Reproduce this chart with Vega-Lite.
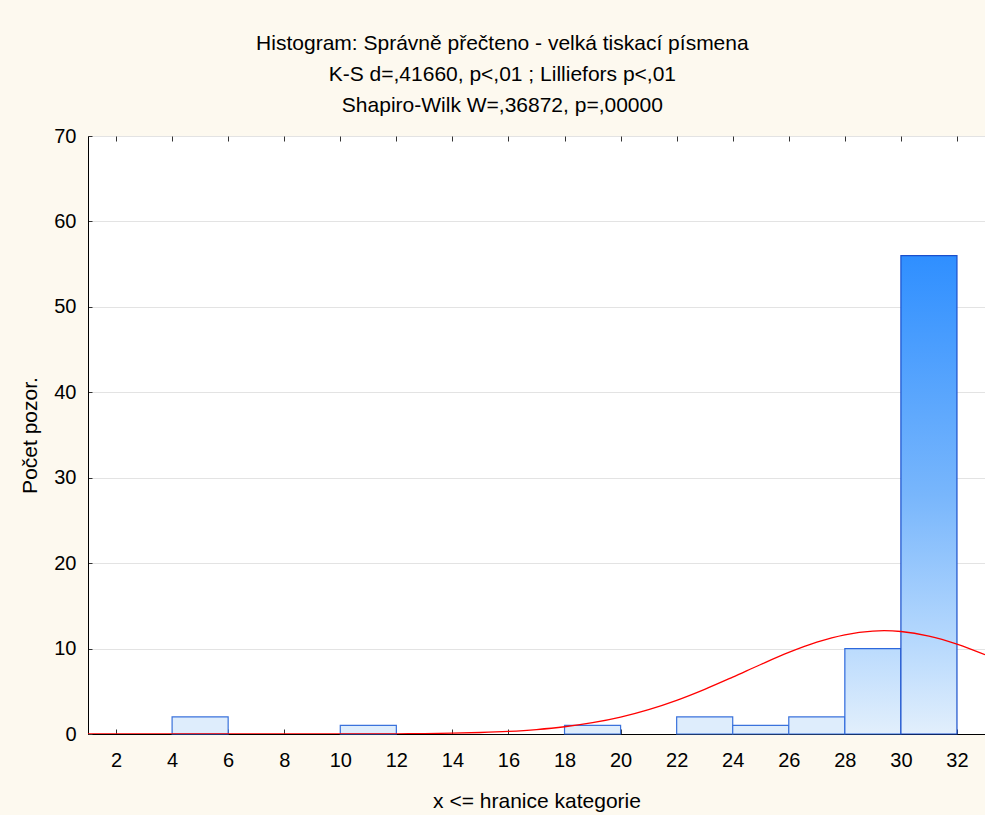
{
  "$schema": "https://vega.github.io/schema/vega-lite/v6.json",
  "autosize": {"type": "none"},
  "width": 897,
  "height": 598,
  "padding": {"left": 88, "top": 136, "right": 0, "bottom": 81},
  "background": "#fdf9ef",
  "title": {
    "text": ["Histogram: Správně přečteno - velká tiskací písmena", "K-S d=,41660, p<,01 ; Lilliefors p<,01", "Shapiro-Wilk W=,36872, p=,00000"],
    "anchor": "middle",
    "frame": "bounds",
    "font": "Liberation Sans",
    "fontSize": 21,
    "fontWeight": "normal",
    "color": "#000000",
    "lineHeight": 31,
    "offset": 10
  },
  "config": {
    "view": {"fill": "#ffffff", "stroke": "#555555", "strokeWidth": 1},
    "axis": {
      "labelFont": "Liberation Sans",
      "titleFont": "Liberation Sans",
      "labelFontSize": 20,
      "titleFontSize": 21,
      "titleFontWeight": "normal",
      "labelColor": "#000000",
      "titleColor": "#000000",
      "domainColor": "#000000",
      "tickColor": "#333333",
      "gridColor": "#e3e3e3"
    }
  },
  "resolve": {"axis": {"x": "independent"}},
  "datasets": {
    "bins": [
      {"lo": 4, "hi": 6, "n": 2},
      {"lo": 10, "hi": 12, "n": 1},
      {"lo": 18, "hi": 20, "n": 1},
      {"lo": 22, "hi": 24, "n": 2},
      {"lo": 24, "hi": 26, "n": 1},
      {"lo": 26, "hi": 28, "n": 2},
      {"lo": 28, "hi": 30, "n": 10},
      {"lo": 30, "hi": 32, "n": 56}
    ],
    "curve": [
      {"x": 1, "y": 0}, {"x": 4, "y": 0}, {"x": 7, "y": 0}, {"x": 9, "y": 0.002},
      {"x": 10, "y": 0.006}, {"x": 11, "y": 0.012}, {"x": 12, "y": 0.025}, {"x": 13, "y": 0.049},
      {"x": 14, "y": 0.095}, {"x": 15, "y": 0.174}, {"x": 16, "y": 0.307}, {"x": 17, "y": 0.521},
      {"x": 18, "y": 0.848}, {"x": 19, "y": 1.324}, {"x": 20, "y": 1.984}, {"x": 21, "y": 2.856},
      {"x": 22, "y": 3.945}, {"x": 23, "y": 5.233}, {"x": 24, "y": 6.659}, {"x": 25, "y": 8.138},
      {"x": 26, "y": 9.545}, {"x": 27, "y": 10.747}, {"x": 28, "y": 11.615}, {"x": 29, "y": 12.05},
      {"x": 29.4, "y": 12.09}, {"x": 30, "y": 12.0}, {"x": 31, "y": 11.47}, {"x": 32, "y": 10.53},
      {"x": 33, "y": 9.28}
    ]
  },
  "layer": [
    {
      "data": {"name": "bins"},
      "transform": [{"filter": "datum.n < 10"}],
      "mark": {"type": "bar", "fill": "#deedfc", "stroke": "#3a72dc", "strokeWidth": 1.2},
      "encoding": {
        "x": {
          "field": "lo", "type": "quantitative",
          "scale": {"domain": [1, 33], "nice": false, "zero": false},
          "axis": {
            "values": [2, 4, 6, 8, 10, 12, 14, 16, 18, 20, 22, 24, 26, 28, 30, 32],
            "title": "x <= hranice kategorie",
            "grid": false,
            "tickSize": -5,
            "labelPadding": 21,
            "titlePadding": 20
          }
        },
        "x2": {"field": "hi"},
        "y": {
          "field": "n", "type": "quantitative",
          "scale": {"domain": [0, 70], "nice": false},
          "axis": {
            "values": [0, 10, 20, 30, 40, 50, 60, 70],
            "title": "Počet pozor.",
            "grid": true,
            "tickSize": -4,
            "labelPadding": 16,
            "titlePadding": 13
          }
        },
        "y2": {"datum": 0}
      }
    },
    {
      "data": {"name": "bins"},
      "transform": [{"filter": "datum.n == 10"}],
      "mark": {
        "type": "bar",
        "stroke": "#2d68dc", "strokeWidth": 1.2,
        "fill": {"gradient": "linear", "x1": 0, "y1": 0, "x2": 0, "y2": 1,
          "stops": [{"offset": 0, "color": "#bbdbfd"}, {"offset": 1, "color": "#e2effc"}]}
      },
      "encoding": {
        "x": {"field": "lo", "type": "quantitative", "axis": null},
        "x2": {"field": "hi"},
        "y": {"field": "n", "type": "quantitative"},
        "y2": {"datum": 0}
      }
    },
    {
      "data": {"name": "bins"},
      "transform": [{"filter": "datum.n > 10"}],
      "mark": {
        "type": "bar",
        "stroke": "#1a4fcc", "strokeWidth": 1.2,
        "fill": {"gradient": "linear", "x1": 0, "y1": 0, "x2": 0, "y2": 1,
          "stops": [{"offset": 0, "color": "#2f8fff"}, {"offset": 0.5, "color": "#78b6fc"}, {"offset": 0.82, "color": "#b9dafd"}, {"offset": 1, "color": "#e2effc"}]}
      },
      "encoding": {
        "x": {"field": "lo", "type": "quantitative", "axis": null},
        "x2": {"field": "hi"},
        "y": {"field": "n", "type": "quantitative"},
        "y2": {"datum": 0}
      }
    },
    {
      "data": {"name": "curve"},
      "mark": {"type": "line", "color": "#ff0000", "strokeWidth": 1.3, "interpolate": "monotone", "clip": true},
      "encoding": {
        "x": {
          "field": "x", "type": "quantitative",
          "axis": {
            "orient": "top",
            "values": [2, 4, 6, 8, 10, 12, 14, 16, 18, 20, 22, 24, 26, 28, 30, 32],
            "labels": false,
            "title": null,
            "domain": false,
            "grid": false,
            "tickSize": -5
          }
        },
        "y": {"field": "y", "type": "quantitative"}
      }
    }
  ]
}
